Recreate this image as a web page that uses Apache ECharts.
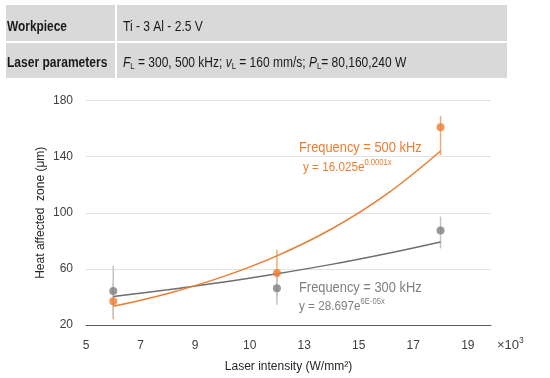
<!DOCTYPE html>
<html>
<head>
<meta charset="utf-8">
<script src="https://cdn.jsdelivr.net/npm/echarts@6/dist/echarts.min.js"></script>
<style>html,body{margin:0;padding:0;background:#fff}#c{width:550px;height:378px}</style>
</head>
<body>
<div id="c"></div>
<script>
// ---- data ----
var xTickValues = [5, 7, 9, 11, 13, 15, 17, 19];
var xTickLabels = ['5', '7', '9', '10', '13', '15', '17', '19'];
var yTicks = [20, 60, 100, 140, 180];
var intensity = [6, 12, 18];
var haz500 = [37, 57, 161];
var haz500Low = [24, 40, 141];
var haz500High = [50, 73.6, 169];
var haz300 = [44.3, 46.2, 87.4];
var haz300Low = [26.3, 34.4, 74.6];
var haz300High = [62.3, 58, 97.3];
var trendX = [6, 8, 10, 12, 14, 16, 18];
var trend500 = [33.3, 42.5, 54.3, 69.3, 88.4, 112.9, 144.0];
var trend300 = [40.3, 45.1, 50.4, 56.5, 63.2, 70.8, 79.2];

var FONT = "'Liberation Sans', Arial, sans-serif";
var ORANGE = '#ED7D31';
var GRAY = '#7F7F7F';

function pairs(xs, ys) { return xs.map(function (x, i) { return [x, ys[i]]; }); }
function bars(xs, lo, hi) { return xs.map(function (x, i) { return [x, lo[i], hi[i]]; }); }

function errRender(color) {
  return function (params, api) {
    var p1 = api.coord([api.value(0), api.value(1)]);
    var p2 = api.coord([api.value(0), api.value(2)]);
    return { type: 'line', shape: { x1: p1[0], y1: p1[1], x2: p2[0], y2: p2[1] },
      style: { stroke: color, lineWidth: 1.5 } };
  };
}

var chart = echarts.init(document.getElementById('c'), null, { renderer: 'canvas' });
chart.setOption({
  animation: false,
  backgroundColor: '#fff',
  textStyle: { fontFamily: FONT },
  grid: { left: 86, right: 59, top: 100.5, bottom: 51.5 },
  xAxis: {
    type: 'value', min: 5, max: 19.85, interval: 2,
    axisLine: { lineStyle: { color: '#595959', width: 1 } },
    axisTick: { show: false },
    splitLine: { show: false },
    axisLabel: {
      color: '#404040', fontSize: 12, fontFamily: FONT, margin: 15,
      formatter: function (v) {
        var i = xTickValues.indexOf(Math.round(v * 100) / 100);
        return i >= 0 ? xTickLabels[i] : '';
      }
    },
    name: 'Laser intensity (W/mm²)', nameLocation: 'middle', nameGap: 36,
    nameTextStyle: { color: '#262626', fontSize: 12, fontFamily: FONT }
  },
  yAxis: {
    type: 'value', min: yTicks[0], max: yTicks[yTicks.length - 1], interval: 40,
    axisLine: { show: false }, axisTick: { show: false },
    splitLine: { lineStyle: { color: '#e3e3e3', width: 1 } },
    axisLabel: { color: '#404040', fontSize: 12, fontFamily: FONT, margin: 13 },
    name: 'Heat affected  zone (μm)', nameLocation: 'middle', nameGap: 39,
    nameMoveOverlap: false,
    nameTextStyle: { color: '#262626', fontSize: 12, fontFamily: FONT }
  },
  series: [
    { type: 'custom', renderItem: errRender('#F3A872'), data: bars(intensity, haz500Low, haz500High), z: 1 },
    { type: 'custom', renderItem: errRender('#C4C4C4'), data: bars(intensity, haz300Low, haz300High), z: 1 },
    { type: 'line', data: pairs(trendX, trend300), smooth: 0.4, symbol: 'none',
      lineStyle: { color: '#6E6E6E', width: 1.5 }, z: 2 },
    { type: 'line', data: pairs(trendX, trend500), smooth: 0.4, symbol: 'none',
      lineStyle: { color: ORANGE, width: 1.5 }, z: 2 },
    { type: 'scatter', data: pairs(intensity, haz300), symbolSize: 8,
      itemStyle: { color: GRAY }, z: 3 },
    { type: 'scatter', data: pairs(intensity, haz500), symbolSize: 8,
      itemStyle: { color: ORANGE }, z: 3 }
  ],
  graphic: [
    { type: 'rect', shape: { x: 6, y: 5, width: 109, height: 36 }, style: { fill: '#d9d9d9' } },
    { type: 'rect', shape: { x: 117, y: 5, width: 390, height: 36 }, style: { fill: '#d9d9d9' } },
    { type: 'rect', shape: { x: 6, y: 43, width: 109, height: 35 }, style: { fill: '#d9d9d9' } },
    { type: 'rect', shape: { x: 117, y: 43, width: 390, height: 35 }, style: { fill: '#d9d9d9' } },
    { type: 'text', x: 7, y: 27, scaleX: 0.85, style: { text: 'Workpiece', font: 'bold 14px ' + FONT, fill: '#1a1a1a', textVerticalAlign: 'middle' } },
    { type: 'text', x: 7, y: 63, scaleX: 0.86, style: { text: 'Laser parameters', font: 'bold 14px ' + FONT, fill: '#1a1a1a', textVerticalAlign: 'middle' } },
    { type: 'text', x: 123, y: 27, scaleX: 0.86, style: { text: 'Ti - 3 Al - 2.5 V', font: '14px ' + FONT, fill: '#1a1a1a', textVerticalAlign: 'middle' } },
    { type: 'text', x: 123, y: 63, scaleX: 0.857, style: {
      text: '{i|F}{sub|L}{n| = 300, 500 kHz; }{i|v}{sub|L}{n| = 160 mm/s; }{i|P}{sub|L}{n|= 80,160,240 W}',
      verticalAlign: 'middle', fill: '#1a1a1a',
      rich: {
        n: { fontFamily: FONT, fontSize: 14, fill: '#1a1a1a' },
        i: { fontFamily: FONT, fontSize: 14, fontStyle: 'italic', fill: '#1a1a1a' },
        sub: { fontFamily: FONT, fontSize: 9, fill: '#1a1a1a', padding: [8, 0, 0, 0] }
      } } },
    { type: 'text', x: 299, y: 148, scaleX: 0.83, style: { text: 'Frequency = 500 kHz', font: '15.5px ' + FONT, fill: ORANGE, textVerticalAlign: 'middle' } },
    { type: 'text', x: 303, y: 167, scaleX: 0.9, style: {
      text: '{n|y = 16.025e}{s|0.0001x}', verticalAlign: 'middle',
      rich: { n: { fontFamily: FONT, fontSize: 13, fill: ORANGE },
              s: { fontFamily: FONT, fontSize: 8.5, fill: ORANGE, padding: [0, 0, 8, 0] } } } },
    { type: 'text', x: 299, y: 288, scaleX: 0.83, style: { text: 'Frequency = 300 kHz', font: '15.5px ' + FONT, fill: GRAY, textVerticalAlign: 'middle' } },
    { type: 'text', x: 299, y: 306, scaleX: 0.9, style: {
      text: '{n|y = 28.697e}{s|6E-05x}', verticalAlign: 'middle',
      rich: { n: { fontFamily: FONT, fontSize: 13, fill: GRAY },
              s: { fontFamily: FONT, fontSize: 8.5, fill: GRAY, padding: [0, 0, 8, 0] } } } },
    { type: 'text', x: 497, y: 345, style: {
      text: '{n|×10}{s|3}', verticalAlign: 'middle',
      rich: { n: { fontFamily: FONT, fontSize: 13, fill: '#404040' },
              s: { fontFamily: FONT, fontSize: 8.5, fill: '#404040', padding: [0, 0, 8, 0] } } } }
  ]
});
</script>
</body>
</html>
